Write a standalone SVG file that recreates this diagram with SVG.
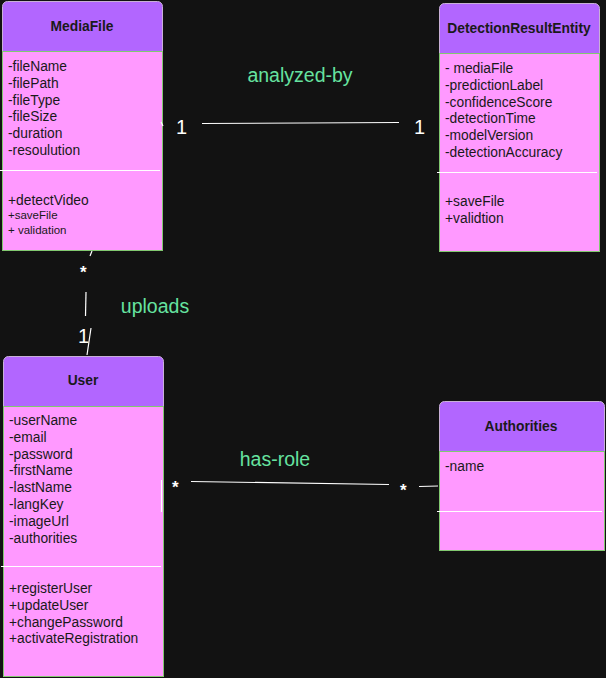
<svg xmlns="http://www.w3.org/2000/svg" width="606" height="678" viewBox="0 0 606 678">
<style>
.hdr{fill:#B266FF;stroke:#C8B0D8;stroke-width:1}
.body{fill:#FF99FF;stroke:#82C870;stroke-width:1}
.div{stroke:#FFFFFF;stroke-width:1.2}
.title{font-family:"Liberation Sans",Arial,sans-serif;font-size:13.8px;font-weight:bold;fill:#1a1a1a;text-anchor:middle}
.t{font-family:"Liberation Sans",Arial,sans-serif;font-size:13.8px;fill:#1a1a1a}
.s{font-family:"Liberation Sans",Arial,sans-serif;font-size:11.5px;fill:#1a1a1a}
.lbl{font-family:"Liberation Sans",Arial,sans-serif;font-size:19.5px;fill:#66E3A0}
.m{font-family:"Liberation Sans",Arial,sans-serif;font-size:20px;fill:#FFFFFF}
.ms{font-family:"Liberation Sans",Arial,sans-serif;font-size:17px;fill:#FFFFFF;font-weight:bold}
.c{stroke:#FFFFFF;stroke-width:1.2;fill:none}
</style>
<rect width="606" height="678" fill="#121212"/>
<g id="MediaFile">
<rect class="hdr" x="2.5" y="1.5" width="160" height="60" rx="5"/>
<rect class="body" x="2.5" y="51.5" width="160" height="199"/>
<line class="div" x1="0" y1="170.5" x2="160" y2="170.5"/>
<text class="title" x="82" y="31">MediaFile</text>
<text class="t" x="8" y="71">-fileName</text>
<text class="t" x="8" y="88">-filePath</text>
<text class="t" x="8" y="105">-fileType</text>
<text class="t" x="8" y="121">-fileSize</text>
<text class="t" x="8" y="138">-duration</text>
<text class="t" x="8" y="155">-resoulution</text>
<text class="t" x="8" y="205">+detectVideo</text>
<text class="s" x="8" y="219">+saveFile</text>
<text class="s" x="8" y="234">+ validation</text>
</g>
<g id="DetectionResultEntity">
<rect class="hdr" x="439.5" y="3.5" width="160" height="60" rx="5"/>
<rect class="body" x="439.5" y="53.5" width="160" height="198"/>
<line class="div" x1="437" y1="172.5" x2="597" y2="172.5"/>
<text class="title" x="519" y="33">DetectionResultEntity</text>
<text class="t" x="445" y="73">- mediaFile</text>
<text class="t" x="445" y="90">-predictionLabel</text>
<text class="t" x="445" y="107">-confidenceScore</text>
<text class="t" x="445" y="123">-detectionTime</text>
<text class="t" x="445" y="140">-modelVersion</text>
<text class="t" x="445" y="157">-detectionAccuracy</text>
<text class="t" x="445" y="206">+saveFile</text>
<text class="t" x="445" y="223">+validtion</text>
</g>
<g id="User">
<rect class="hdr" x="3.5" y="356.5" width="160" height="60" rx="5"/>
<rect class="body" x="3.5" y="406.5" width="160" height="270"/>
<line class="div" x1="1" y1="566.5" x2="161" y2="566.5"/>
<line class="div" x1="161.5" y1="480" x2="161.5" y2="512"/>
<text class="title" x="83" y="385">User</text>
<text class="t" x="9" y="425">-userName</text>
<text class="t" x="9" y="442">-email</text>
<text class="t" x="9" y="459">-password</text>
<text class="t" x="9" y="475">-firstName</text>
<text class="t" x="9" y="492">-lastName</text>
<text class="t" x="9" y="509">-langKey</text>
<text class="t" x="9" y="526">-imageUrl</text>
<text class="t" x="9" y="543">-authorities</text>
<text class="t" x="9" y="593">+registerUser</text>
<text class="t" x="9" y="610">+updateUser</text>
<text class="t" x="9" y="627">+changePassword</text>
<text class="t" x="9" y="643">+activateRegistration</text>
</g>
<g id="Authorities">
<rect class="hdr" x="439.5" y="401.5" width="165" height="60" rx="5"/>
<rect class="body" x="439.5" y="451.5" width="165" height="99"/>
<line class="div" x1="437" y1="511.5" x2="602" y2="511.5"/>
<text class="title" x="521" y="431">Authorities</text>
<text class="t" x="445" y="471">-name</text>
</g>
<g id="connectors">
<line class="c" x1="202" y1="123.5" x2="399" y2="122.5"/>
<line class="c" x1="161" y1="122" x2="163" y2="126"/>
<line class="c" x1="92" y1="251" x2="90" y2="256"/>
<line class="c" x1="86" y1="292" x2="85.5" y2="316"/>
<line class="c" x1="91" y1="328" x2="87" y2="355"/>
<line class="c" x1="191" y1="481.5" x2="389" y2="484.5"/>
<line class="c" x1="419" y1="486.5" x2="438" y2="486"/>
<text class="m" x="176" y="134">1</text>
<text class="m" x="414" y="134">1</text>
<text class="ms" x="80" y="278">*</text>
<text class="m" x="78" y="343">1</text>
<text class="ms" x="172" y="493">*</text>
<text class="ms" x="400" y="496">*</text>
<text class="lbl" x="300" y="82" text-anchor="middle">analyzed-by</text>
<text class="lbl" x="155" y="313" text-anchor="middle">uploads</text>
<text class="lbl" x="275" y="466" text-anchor="middle">has-role</text>
</g>
</svg>
